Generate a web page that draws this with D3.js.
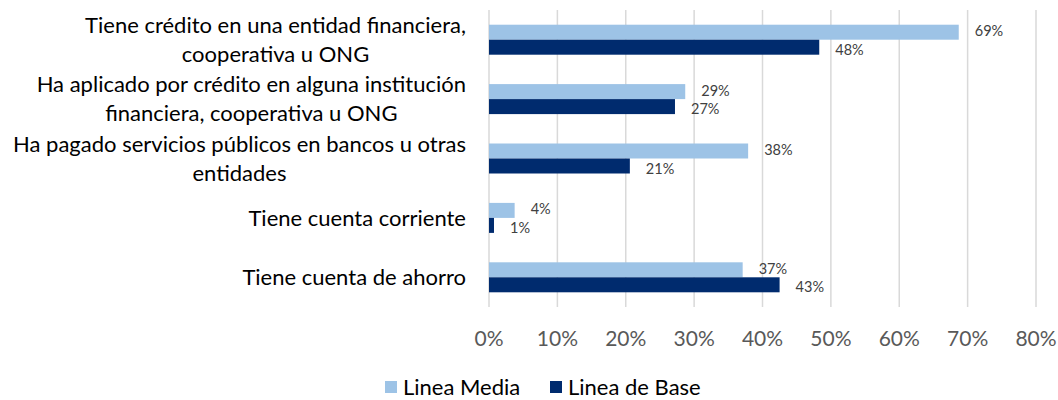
<!DOCTYPE html>
<html>
<head>
<meta charset="utf-8">
<script src="https://cdn.jsdelivr.net/npm/d3@7"></script>
<style>
  body { margin: 0; background: #fff; }
  text { font-family: Lato, "Open Sans", sans-serif; }
</style>
</head>
<body>
<div id="container"></div>
<script>
/* DATA */
const categories = [
  "Tiene crédito en una entidad financiera,\ncooperativa u ONG",
  "Ha aplicado por crédito en alguna institución\nfinanciera, cooperativa u ONG",
  "Ha pagado servicios públicos en bancos u otras\nentidades",
  "Tiene cuenta corriente",
  "Tiene cuenta de ahorro"
];
const seriesNames = ["Linea Media", "Linea de Base"];
const lineaMedia = [68.7, 28.7, 37.9, 3.75, 37.1];
const lineaBase = [48.3, 27.2, 20.6, 0.73, 42.5];
const xTicks = [0, 10, 20, 30, 40, 50, 60, 70, 80];
const colors = ["#9dc3e6", "#002b6e"];

/* CONSTANTS */
const width = 1058,
  height = 400,
  margin = { top: 10, bottom: 93, left: 489, right: 22 };

const svg = d3.select("#container")
  .append("svg")
  .attr("width", width)
  .attr("height", height);

const x = d3.scaleLinear()
  .domain([0, 80])
  .range([margin.left, width - margin.right]);

const y = d3.scaleBand()
  .domain(categories)
  .range([margin.top, height - margin.bottom])
  .paddingInner(0.495)
  .paddingOuter(0.2475);

const ySub = d3.scaleBand()
  .domain(seriesNames)
  .range([0, y.bandwidth()]);

// gridlines
svg.selectAll("line.grid")
  .data(xTicks)
  .join("line")
  .attr("class", "grid")
  .attr("x1", d => x(d))
  .attr("x2", d => x(d))
  .attr("y1", margin.top)
  .attr("y2", height - margin.bottom)
  .attr("stroke", "#d9d9d9")
  .attr("stroke-width", 1.5);

// tick labels
svg.selectAll("text.tick")
  .data(xTicks)
  .join("text")
  .attr("class", "tick")
  .attr("x", d => x(d))
  .attr("y", 339)
  .attr("dy", "0.35em")
  .attr("text-anchor", "middle")
  .attr("fill", "#595959")
  .style("font-size", "21px")
  .text(d => d + "%");

// bars
const rows = categories.map((c, i) => ({ cat: c, vals: [lineaMedia[i], lineaBase[i]] }));

const groups = svg.selectAll("g.cat")
  .data(rows)
  .join("g")
  .attr("class", "cat")
  .attr("transform", d => `translate(0,${y(d.cat)})`);

groups.selectAll("rect")
  .data(d => d.vals.map((v, j) => ({ s: seriesNames[j], v, j })))
  .join("rect")
  .attr("x", x(0))
  .attr("y", d => ySub(d.s))
  .attr("width", d => x(d.v) - x(0))
  .attr("height", ySub.bandwidth())
  .attr("fill", d => colors[d.j]);

// value labels, nudged apart a little so they don't collide
groups.selectAll("text.val")
  .data(d => d.vals.map((v, j) => ({ s: seriesNames[j], v, j })))
  .join("text")
  .attr("class", "val")
  .attr("x", d => x(d.v) + 16)
  .attr("y", d => ySub(d.s) + ySub.bandwidth() / 2 + (d.j === 0 ? -1 : 2.5))
  .attr("dy", "0.35em")
  .attr("fill", "#404040")
  .style("font-size", "14.5px")
  .text(d => Math.round(d.v) + "%");

// category labels
const catLabels = svg.selectAll("text.cat")
  .data(categories)
  .join("text")
  .attr("class", "cat")
  .attr("text-anchor", "middle")
  .attr("fill", "#000")
  .style("font-size", "22px");

catLabels.each(function (d) {
  const lines = d.split("\n");
  const cy = y(d) + y.bandwidth() / 2;
  const t = d3.select(this);
  lines.forEach((ln, k) => {
    t.append("tspan")
      .attr("y", cy + (k - (lines.length - 1) / 2) * 29)
      .attr("dy", "0.35em")
      .text(ln);
  });
  // centre lines under the widest one, right edge at 466
  let maxW = 0;
  t.selectAll("tspan").each(function () { maxW = Math.max(maxW, this.getComputedTextLength()); });
  t.selectAll("tspan").attr("x", 466 - maxW / 2);
});

// legend
const legend = svg.append("g");
const legX = [385, 550];
seriesNames.forEach((s, i) => {
  legend.append("rect")
    .attr("x", legX[i])
    .attr("y", 381)
    .attr("width", 12)
    .attr("height", 12)
    .attr("fill", colors[i]);
  legend.append("text")
    .attr("x", legX[i] + 18)
    .attr("y", 387)
    .attr("dy", "0.35em")
    .attr("fill", "#000")
    .style("font-size", "22px")
    .text(s);
});
</script>
</body>
</html>
